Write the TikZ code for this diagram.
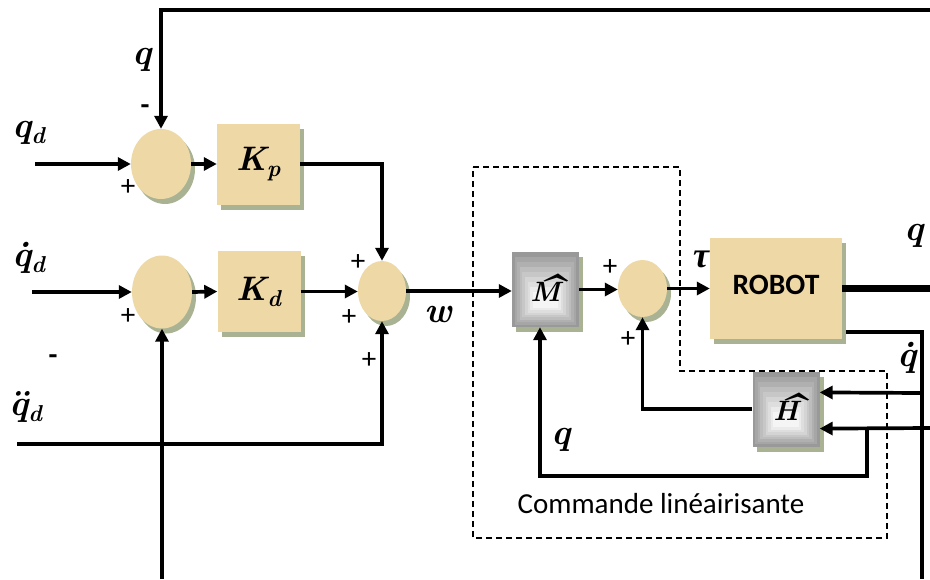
\documentclass[tikz,border=0pt]{standalone}
\usepackage{graphicx}
\usepackage{fontspec}
\newfontfamily\carl{Carlito}
\newfontfamily\lmfam{Latin Modern Roman}
\newfontfamily\libs{Liberation Serif}
\newcommand\mlb{\lmfam\bfseries\itshape}
\newcommand\hatl[1]{\setbox0\hbox{#1}\rlap{\hbox to\wd0{\hss\kern4pt\scalebox{2.5}[1.4]{\char"02C6}\hss}}\box0}
\newcommand\sub[1]{\raisebox{-6pt}{\fontsize{23}{25}\selectfont #1}}
\usetikzlibrary{shapes.geometric,shadows,arrows.meta,calc}
\definecolor{papyrus}{HTML}{EED8A6}
\definecolor{shad}{HTML}{A9B394}
\tikzset{
  myshadow/.style={drop shadow={shadow xshift=4pt,shadow yshift=-5pt,fill=shad,opacity=1}},
  sumnode/.style={ellipse,fill=papyrus,inner sep=0,myshadow},
  gainbox/.style={rectangle,fill=papyrus,inner sep=0,minimum width=83pt,minimum height=81pt,myshadow},
  hatbox/.style={rectangle,inner sep=0,minimum width=67pt,minimum height=75pt,fill=black!40,myshadow,
    path picture={
      \foreach \i in {1,...,8}{
        \pgfmathtruncatemacro\gshade{40-4.5*\i}
        \fill[black!\gshade] ($(path picture bounding box.south west)+(\i*2.6pt,\i*2.4pt)$)
          rectangle ($(path picture bounding box.north east)+(-\i*2.6pt,-\i*5pt)$);
      }
    }},
  sig/.style={line width=3.7pt,-{Triangle[length=13pt,width=13pt]}},
  wire/.style={line width=3.7pt},
  mlab/.style={font=\mlb\fontsize{36}{40}\selectfont,inner sep=0},
  sgn/.style={font=\carl\fontsize{29}{32}\selectfont,inner sep=0},
  msg/.style={font=\carl\bfseries\fontsize{29}{32}\selectfont,inner sep=0},
  ctrlbox/.style={dashed,dash pattern=on 6pt off 4pt,line width=1.3pt},
}
\begin{document}
\begin{tikzpicture}[x=1pt,y=-1pt]
\useasboundingbox (0,0) rectangle (930,579);
% dashed region
\draw[ctrlbox] (473,167) -- (680,167) -- (680,371) -- (887,371) -- (887,538) -- (473,538) -- cycle;
% blocks
\node[sumnode,minimum width=60pt,minimum height=70pt] (s1) at (161,164) {};
\node[gainbox,font=\mlb\fontsize{34}{38}\selectfont] (kp) at (258.5,164) {K\sub{p}};
\node[sumnode,minimum width=60pt,minimum height=73pt] (s2) at (162,292) {};
\node[gainbox,font=\mlb\fontsize{34}{38}\selectfont] (kd) at (259,291.5) {K\sub{d}};
\node[sumnode,minimum width=48pt,minimum height=60pt] (s3) at (382,291) {};
\node[hatbox,font=\mlb\fontsize{28}{32}\selectfont] (M) at (545.5,289.5) {\raisebox{4pt}{\hatl{M}}};
\node[sumnode,minimum width=49pt,minimum height=57pt] (s4) at (642.5,288.5) {};
\node[rectangle,fill=papyrus,inner sep=0,minimum width=132pt,minimum height=101pt,myshadow] (robot) at (776,288.5)
  {\raisebox{7pt}{\carl\bfseries\fontsize{29.5}{32}\selectfont ROBOT}};
\node[hatbox,font=\mlb\fontsize{28}{32}\selectfont] (H) at (786,409) {\raisebox{5pt}{\hatl{H}}};
% free ends
\coordinate (topR) at (930,10);
\coordinate (qdin) at (35,164);
\coordinate (qdotin) at (32,292);
\coordinate (qddin) at (17,444);
\coordinate (bot1) at (162,579);
\coordinate (qR) at (930,288.5);
\coordinate (qdS) at (846,332);
\coordinate (qdB) at (922,579);
\coordinate (h1) at (920,393);
\coordinate (h2) at (930,428);
\coordinate (br) at (867,428);
\coordinate (mq) at (540,476);
\coordinate (H1) at ($(H.north east)!0.28!(H.south east)$);
\coordinate (H2) at ($(H.north east)!0.76!(H.south east)$);
% connectors
\draw[sig] (topR) -| (s1.north);
\draw[sig] (qdin) -- (s1.west);
\draw[sig] (s1.east) -- (kp.west);
\draw[sig] (kp.east) -| (s3.north);
\draw[sig] (qdotin) -- (s2.west);
\draw[sig] (s2.east) -- (kd.west);
\draw[sig] (kd.east) -- (kd.east -| s3.west);
\draw[sig] (qddin) -| (s3.south);
\draw[sig] (bot1) -- (s2.south);
\draw[sig] (s3.east) -- (s3.east -| M.west);
\draw[sig] (M.east) -- (M.east -| s4.west);
\draw[sig] (s4.east) -- (robot.west);
\draw[line width=7pt] (robot.east) -- (qR);
\draw[wire] (qdS) -| (qdB);
\draw[sig] (h1) -- (H1);
\draw[sig] (h2) -- (H2);
\draw[sig] (br) |- (mq) -- (mq |- M.south);
\draw[sig] (H.west) -| (s4.south);
% labels
\node[mlab] (lq1) at (142,60) {q};
\node[mlab,anchor=base west] (lqd) at (12,137) {q\sub{d}};
\node[mlab,anchor=base west] (lqdot) at (12,266) {\.{q}\sub{d}};
\node[mlab,anchor=base west] (lqdd) at (9,415) {\"{q}\sub{d}};
\node[mlab] (lw) at (438,314) {w};
\node[inner sep=0,font=\libs\bfseries\itshape\fontsize{36}{40}\selectfont] (ltau) at (701,259) {τ};
\node[mlab] (lq2) at (914,236) {q};
\node[mlab] (lq3) at (907,358) {\.{q}};
\node[mlab] (lq4) at (561,440) {q};
\node[msg] (m1) at (145,110) {-};
\node[msg] (m2) at (53,360) {-};
\node[sgn] (p1) at (128,188) {+};
\node[sgn] (p2) at (128,317) {+};
\node[sgn] (p3) at (358,263) {+};
\node[sgn] (p4) at (349,318) {+};
\node[sgn] (p5) at (369,361) {+};
\node[sgn] (p6) at (610,268) {+};
\node[sgn] (p7) at (628,340) {+};
\node[font=\carl\fontsize{29}{32}\selectfont,inner sep=0] (cl) at (661,504) {Commande linéairisante};
\end{tikzpicture}
\end{document}
